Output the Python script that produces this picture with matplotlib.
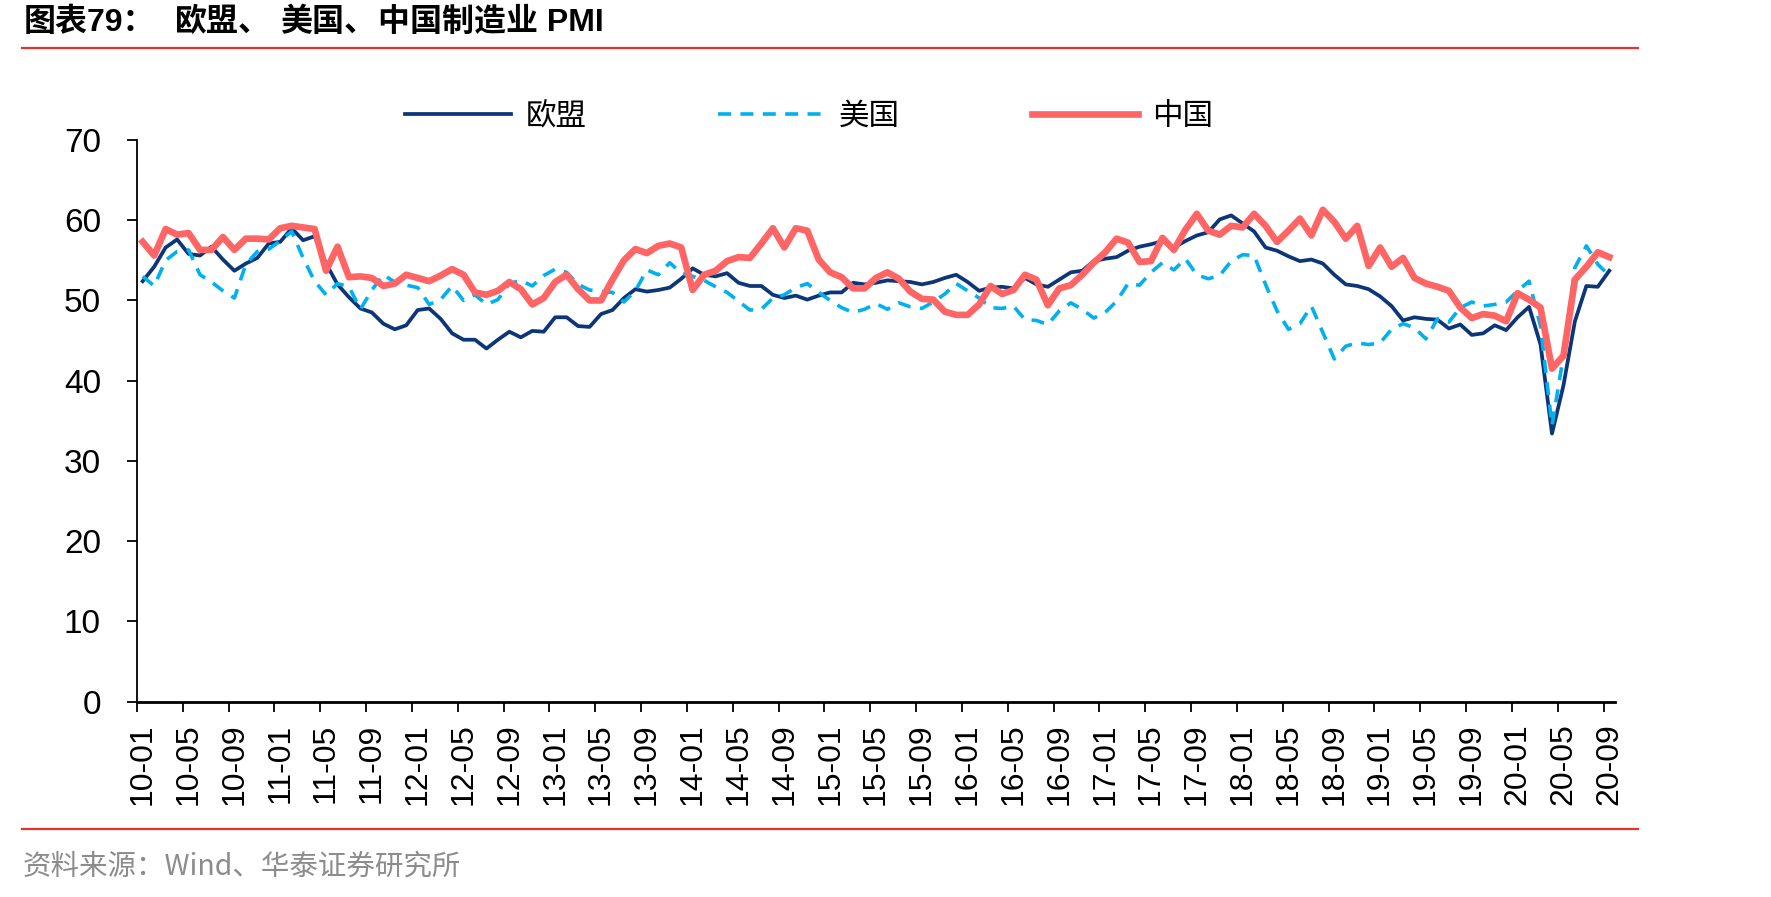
import numpy as np
import matplotlib
matplotlib.use("Agg")
from matplotlib import pyplot as plt
from matplotlib.lines import Line2D

plt.rcParams['font.family'] = ['Liberation Sans', 'Noto Sans CJK SC', 'DejaVu Sans']

# month labels 10-01 .. 20-09
months = ["%02d-%02d" % (y, m) for y in range(10, 21) for m in range(1, 13)][:129]

eu = [52.4, 54.2, 56.6, 57.6, 55.8, 55.6, 56.7, 55.1, 53.7, 54.6, 55.3, 57.1,
      57.3, 59.0, 57.5, 58.0, 54.6, 52.0, 50.4, 49.0, 48.5, 47.1, 46.4, 46.9,
      48.8, 49.0, 47.7, 45.9, 45.1, 45.1, 44.0, 45.1, 46.1, 45.4, 46.2, 46.1,
      47.9, 47.9, 46.8, 46.7, 48.3, 48.8, 50.3, 51.4, 51.1, 51.3, 51.6, 52.7,
      54.0, 53.2, 53.0, 53.4, 52.2, 51.8, 51.8, 50.7, 50.3, 50.6, 50.1, 50.6,
      51.0, 51.0, 52.2, 52.0, 52.2, 52.5, 52.4, 52.3, 52.0, 52.3, 52.8, 53.2,
      52.3, 51.2, 51.6, 51.7, 51.5, 52.8, 52.0, 51.7, 52.6, 53.5, 53.7, 54.9,
      55.2, 55.4, 56.2, 56.7, 57.0, 57.4, 56.6, 57.4, 58.1, 58.5, 60.1, 60.6,
      59.6, 58.6, 56.6, 56.2, 55.5, 54.9, 55.1, 54.6, 53.2, 52.0, 51.8, 51.4,
      50.5, 49.3, 47.5, 47.9, 47.7, 47.6, 46.5, 47.0, 45.7, 45.9, 46.9, 46.3,
      47.9, 49.2, 44.5, 33.4, 39.4, 47.4, 51.8, 51.7, 53.7]

us = [53.0, 51.8, 55.0, 56.1, 56.3, 53.2, 52.3, 51.2, 50.3, 54.5, 56.1, 56.4,
      57.4, 58.6, 55.3, 52.4, 50.7, 52.1, 51.7, 48.9, 51.3, 53.2, 52.3, 51.9,
      51.6, 49.5, 50.1, 51.8, 50.0, 50.7, 49.5, 50.1, 52.1, 52.5, 51.8, 53.1,
      53.9, 53.5, 52.0, 51.3, 51.1, 51.0, 49.8, 51.2, 53.8, 53.2, 54.7, 53.4,
      53.0, 52.5, 51.7, 51.0, 49.9, 48.8, 48.9, 50.3, 50.7, 51.6, 52.1, 51.0,
      50.0, 49.1, 48.5, 48.9, 49.6, 48.9, 49.7, 49.2, 49.0, 49.8, 50.8, 52.1,
      51.2, 50.3, 49.1, 49.0, 49.3, 47.6, 47.5, 47.0, 48.7, 49.7, 48.9, 47.8,
      48.5, 49.9, 52.1, 51.9, 53.5, 54.7, 53.8, 55.2, 53.2, 52.7, 53.1, 54.9,
      55.7, 55.6, 52.0, 48.7, 46.4, 47.1, 49.3, 46.0, 42.7, 44.3, 44.7, 44.5,
      44.7, 46.4, 47.1, 46.6, 45.2, 47.7, 47.3, 49.1, 49.8, 49.3, 49.5, 49.8,
      51.2, 52.4, 46.8, 34.4, 43.1, 54.1, 56.8, 54.5, 53.1]

cn = [57.3, 55.6, 58.9, 58.2, 58.4, 56.3, 56.3, 57.9, 56.3, 57.7, 57.7, 57.6,
      59.0, 59.3, 59.1, 58.9, 53.7, 56.7, 52.9, 53.0, 52.8, 51.8, 52.1, 53.2,
      52.8, 52.4, 53.1, 53.9, 53.2, 51.0, 50.7, 51.2, 52.3, 51.4, 49.5, 50.3,
      52.3, 53.2, 51.4, 50.0, 50.0, 52.6, 55.0, 56.4, 55.9, 56.8, 57.1, 56.6,
      51.3, 53.2, 53.7, 54.9, 55.4, 55.3, 57.1, 59.0, 56.6, 59.0, 58.7, 55.1,
      53.5, 52.9, 51.5, 51.5, 52.8, 53.5, 52.7, 51.1, 50.2, 50.1, 48.6, 48.2,
      48.2, 49.5, 51.8, 50.8, 51.3, 53.2, 52.6, 49.4, 51.5, 51.9, 53.2, 54.7,
      56.0, 57.7, 57.2, 54.8, 54.9, 57.8, 56.3, 58.8, 60.8, 58.7, 58.2, 59.3,
      59.1, 60.8, 59.3, 57.3, 58.7, 60.2, 58.1, 61.3, 59.8, 57.7, 59.3, 54.3,
      56.6, 54.2, 55.3, 52.8, 52.1, 51.7, 51.2, 49.1, 47.8, 48.3, 48.1, 47.4,
      50.9, 50.1, 49.1, 41.5, 43.1, 52.6, 54.2, 56.0, 55.4]

W, H = 1771, 897
fig = plt.figure(figsize=(W / 100, H / 100), dpi=100)
ax = fig.add_axes([137 / W, 1 - 701.5 / H, (1615 - 137) / W, (701.5 - 140) / H])

x = np.arange(len(months))
ax.plot(x, eu, color='#0C3677', lw=2.7, label='欧盟')
ax.plot(x, us, color='#00B0F0', lw=2.6, ls=(0, (3.6, 2.6)), label='美国')
ax.plot(x, cn, color='#FF6565', lw=4.8, label='中国')

ax.set_xlim(-0.5, len(months) - 0.5)
ax.set_ylim(0, 70)
ax.set_yticks(range(0, 71, 10))

ax.set_xticks(np.arange(-0.5, len(months) - 1, 4))
ax.tick_params(axis='x', which='major', length=7, width=1.3, labelbottom=False)
ax.set_xticks(x[::4], minor=True)
ax.set_xticklabels(months[::4], minor=True, rotation=90, fontsize=23)
ax.tick_params(axis='x', which='minor', length=0, pad=16)
ax.tick_params(axis='y', length=7, width=1.3, labelsize=24, pad=19)

for s in ['top', 'right']:
    ax.spines[s].set_visible(False)
ax.spines['left'].set_linewidth(1.3)
ax.spines['bottom'].set_linewidth(2.0)

leg = ax.legend(loc='center', bbox_to_anchor=(0.457, 0.870),
                bbox_transform=fig.transFigure, ncol=3, frameon=False,
                handlelength=3.47, handletextpad=0.48, columnspacing=4.3,
                prop={'family': ['Noto Sans CJK SC'], 'size': 22})

# title, pieces placed like the original spacing
title_parts = [(24, "图表79："), (175, "欧盟、"), (280, "美国、"), (378, "中国制造业 PMI")]
for px, s in title_parts:
    fig.text(px / W, 1 - 23 / H, s, fontsize=23, fontweight='bold',
             va='center', ha='left')

fig.add_artist(Line2D([22 / W, 1638 / W], [1 - 48.5 / H] * 2,
                      transform=fig.transFigure, color='#E5322B', lw=1.6))
fig.add_artist(Line2D([22 / W, 1638 / W], [1 - 829 / H] * 2,
                      transform=fig.transFigure, color='#E5322B', lw=1.6))
fig.text(23 / W, 1 - 867 / H, "资料来源：Wind、华泰证券研究所", fontsize=20.5,
         color='#8C8C8C', va='center', ha='left',
         family=['Noto Sans CJK SC', 'DejaVu Sans'])

fig.savefig('out.png', dpi=100)
